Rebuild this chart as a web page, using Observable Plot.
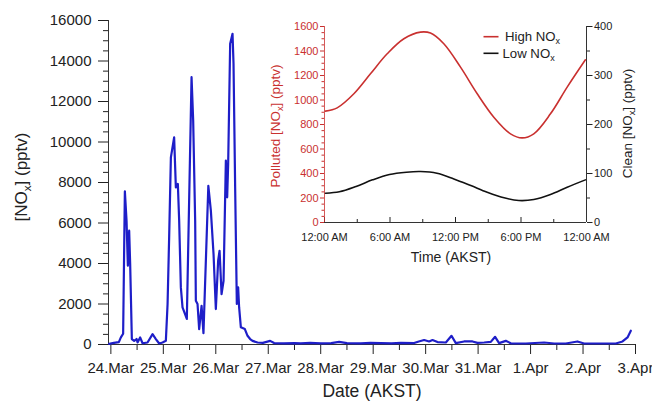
<!DOCTYPE html>
<html><head><meta charset="utf-8">
<script src="https://cdn.jsdelivr.net/npm/d3@7"></script>
<script src="https://cdn.jsdelivr.net/npm/@observablehq/plot@0.6"></script>
<style>
body{margin:0;background:#fff;}
#wrap{position:relative;width:652px;height:402px;font-family:"Liberation Sans",Arial,sans-serif;overflow:hidden}
#wrap svg{position:absolute;overflow:visible}
</style></head><body><div id="wrap"></div>
<script>
// ---- main series: days since 24 Mar 00:00 AKST, NOx (pptv)
const dayLabels = ["24.Mar","25.Mar","26.Mar","27.Mar","28.Mar","29.Mar","30.Mar","31.Mar","1.Apr","2.Apr","3.Apr"];
const dayTicks = [0,1,2,3,4,5,6,7,8,9,10];
const halfDayTicks = [0.5,1.5,2.5,3.5,4.5,5.5,6.5,7.5,8.5,9.5];
const mainYTicks = [0,2000,4000,6000,8000,10000,12000,14000,16000];
const mainYMinor = [500,1000,1500,2500,3000,3500,4500,5000,5500,6500,7000,7500,8500,9000,9500,10500,11000,11500,12500,13000,13500,14500,15000,15500];
const xDomain = [-0.045, 10];
const yDomain = [0, 16000];

const nDay = [-0.032,0.057,0.152,0.191,0.234,0.267,0.299,0.324,0.349,0.368,0.400,0.444,0.490,0.509,0.558,0.604,0.699,0.795,0.858,0.921,0.985,1.048,1.081,1.111,1.144,1.206,1.239,1.277,1.302,1.334,1.366,1.448,1.538,1.569,1.607,1.620,1.652,1.683,1.729,1.765,1.858,1.906,1.957,2.001,2.045,2.072,2.110,2.148,2.192,2.217,2.236,2.274,2.319,2.338,2.369,2.401,2.426,2.445,2.478,2.554,2.605,2.655,2.701,2.796,2.897,3.036,3.112,3.3,3.5,3.62,3.8,4.0,4.2,4.351,4.5,4.765,4.95,5.146,5.35,5.527,5.780,5.870,5.971,6.066,6.131,6.226,6.385,6.493,6.575,6.733,6.893,6.989,7.115,7.242,7.324,7.400,7.528,7.623,7.909,8.258,8.449,8.672,8.894,9.020,9.339,9.625,9.753,9.848,9.911];
const nox = [30,80,120,350,530,7560,6110,3890,5620,3970,270,180,270,100,350,60,100,510,270,50,100,180,2000,5290,9240,10230,7760,7930,6110,2820,1830,1260,13200,11060,6110,2160,2000,760,1910,560,7840,6610,4470,1750,4140,4630,2490,3150,9080,7270,8920,14850,15340,13860,7760,2000,2820,1830,850,760,430,270,180,100,80,180,70,60,70,60,80,60,70,130,70,60,80,70,60,80,70,150,220,150,220,120,100,430,70,150,150,80,100,130,380,70,180,60,50,100,50,50,150,50,50,50,150,350,680];

// ---- inset: diurnal profiles
const hours = [0.09,1.16,2.69,4.21,5.74,7.27,8.79,9.71,10.93,12.46,13.99,15.51,17.04,18.1,19.17,20.7,22.23,23.9];
const polluted = [909,936,1051,1214,1377,1500,1554,1546,1459,1268,1051,860,724,691,724,887,1105,1328];
const cleanHours = [0.09,1.36,2.89,4.4,5.95,7.5,8.8,10.3,11.85,13.4,14.9,16.45,17.8,19.17,20.7,22.23,23.9];
const clean = [59.8,62.6,73.5,87,98,102.7,104,100.6,89,75.5,61.9,50.4,44.9,46.9,57,72,87];
const insetHourTicks = [0,6,12,18,24];
const insetHourMinor = [3,9,15,21];
const insetHourLabels = ["12:00 AM","6:00 AM","12:00 PM","6:00 PM","12:00 AM"];
const pollutedTicks = [0,200,400,600,800,1000,1200,1400,1600];
const pollutedMinor = d3.range(50,1600,50).filter(v => v % 200 !== 0);
const cleanTicks = [0,100,200,300,400];
const cleanMinor = [50,150,250,350];
const cleanFactor = 4; // right axis 0-400 shares the left 0-1600 range
const legendNames = ["High NO", "Low NO"];

const RED = "#c9302f";
const BLUE = "#1e1ec8";
const FONT = "Liberation Sans, Arial, sans-serif";

const mainData = nDay.map((d, i) => ({d, v: nox[i]}));
const main = Plot.plot({
  width: 652, height: 402,
  marginLeft: 108, marginRight: 17, marginTop: 20, marginBottom: 58,
  style: {fontFamily: FONT, fontSize: "15px", background: "transparent", color: "#222"},
  x: {domain: xDomain, label: null},
  y: {domain: yDomain, label: null},
  marks: [
    Plot.axisY({ticks: mainYMinor, tickSize: 5, tickFormat: () => "", label: null}),
    Plot.axisY({ticks: mainYTicks, tickSize: 10, tickPadding: 7, tickFormat: d => String(d), label: null}),
    Plot.axisX({ticks: halfDayTicks, tickSize: 6, tickFormat: () => "", label: null}),
    Plot.axisX({ticks: dayTicks, tickSize: 10, tickPadding: 8, tickFormat: d => dayLabels[Math.round(d)], label: null}),
    Plot.ruleX([xDomain[0]], {stroke: "#333"}),
    Plot.ruleY([yDomain[0]], {stroke: "#333"}),
    Plot.line(mainData, {x: "d", y: "v", stroke: BLUE, strokeWidth: 2.2, strokeLinejoin: "round"})
  ]
});

const polData = hours.map((h, i) => ({h, v: polluted[i]}));
const cleanData = cleanHours.map((h, i) => ({h, v: clean[i] * cleanFactor}));
const inset = Plot.plot({
  width: 397, height: 270,
  marginLeft: 69, marginRight: 66, marginTop: 26, marginBottom: 48,
  style: {fontFamily: FONT, fontSize: "11px", background: "transparent", color: "#222"},
  x: {domain: [0, 24], label: null},
  y: {domain: [0, 1600], label: null},
  marks: [
    Plot.axisY({anchor: "left", ticks: pollutedMinor, tickSize: 2.5, tickFormat: () => "", color: RED, label: null}),
    Plot.axisY({anchor: "left", ticks: pollutedTicks, tickSize: 4, tickPadding: 2, tickFormat: d => String(d), color: RED, label: null}),
    Plot.axisY({anchor: "right", ticks: cleanMinor.map(v => v * cleanFactor), tickSize: 3, tickFormat: () => "", label: null}),
    Plot.axisY({anchor: "right", ticks: cleanTicks.map(v => v * cleanFactor), tickSize: 5.5, tickPadding: 2, tickFormat: d => String(d / cleanFactor), label: null}),
    Plot.axisX({ticks: insetHourMinor, tickSize: -3, tickFormat: () => "", label: null}),
    Plot.axisX({ticks: insetHourTicks, tickSize: -5, tickFormat: () => "", label: null}),
    Plot.axisX({ticks: insetHourTicks, tickSize: 0, tickPadding: 11, tickFormat: d => insetHourLabels[insetHourTicks.indexOf(d)], label: null}),
    Plot.ruleX([0], {stroke: RED, strokeOpacity: 0.8}),
    Plot.ruleX([24], {stroke: "#333"}),
    Plot.ruleY([0], {stroke: "#333"}),
    Plot.line(polData, {x: "h", y: "v", stroke: RED, strokeWidth: 1.6, curve: "catmull-rom"}),
    Plot.line(cleanData, {x: "h", y: "v", stroke: "#111", strokeWidth: 1.6, curve: "catmull-rom"})
  ]
});

const wrap = document.getElementById("wrap");
wrap.appendChild(main);
main.style.left = "0px"; main.style.top = "0px";
wrap.appendChild(inset);
inset.style.left = "255px"; inset.style.top = "0px";

// helper: text with subscript x in "NOx"
function noxLabel(sel, before, after, size) {
  sel.append("tspan").text(before + "[NO");
  sel.append("tspan").attr("font-size", size * 0.68).attr("dy", size * 0.25).text("x");
  sel.append("tspan").attr("dy", -size * 0.25).text("]" + after);
}

const ms = d3.select(main);
const yt = ms.append("text").attr("transform", "translate(27,177) rotate(-90)")
  .attr("text-anchor", "middle").attr("font-size", 17).attr("fill", "#222").attr("font-family", FONT);
noxLabel(yt, "", " (pptv)", 17);
ms.append("text").attr("x", 372).attr("y", 397).attr("text-anchor", "middle")
  .attr("font-size", 17.5).attr("fill", "#222").attr("font-family", FONT).text("Date (AKST)");

const is = d3.select(inset);
const lt = is.append("text").attr("transform", "translate(25,126) rotate(-90)")
  .attr("text-anchor", "middle").attr("font-size", 13.5).attr("fill", RED).attr("font-family", FONT);
noxLabel(lt, "Polluted ", " (pptv)", 13.5);
const rt = is.append("text").attr("transform", "translate(377,123.5) rotate(-90)")
  .attr("text-anchor", "middle").attr("font-size", 13.5).attr("fill", "#222").attr("font-family", FONT);
noxLabel(rt, "Clean ", " (pptv)", 13.5);
is.append("text").attr("x", 196).attr("y", 262).attr("text-anchor", "middle")
  .attr("font-size", 14).attr("fill", "#222").attr("font-family", FONT).text("Time (AKST)");

// legend
const legendColors = [RED, "#111"];
const legendRowY = [36.7, 53.3];
legendNames.forEach((name, i) => {
  is.append("line").attr("x1", 228.5).attr("x2", 243.5).attr("y1", legendRowY[i]).attr("y2", legendRowY[i])
    .attr("stroke", legendColors[i]).attr("stroke-width", 1.6);
  const t = is.append("text").attr("x", i === 0 ? 250 : 247.5).attr("y", legendRowY[i] + 4.6).attr("font-size", 13.2)
    .attr("text-anchor", "start").attr("fill", "#222").attr("font-family", FONT);
  t.append("tspan").text(name);
  t.append("tspan").attr("font-size", 9).attr("dy", 3).text("x");
});
</script></body></html>
